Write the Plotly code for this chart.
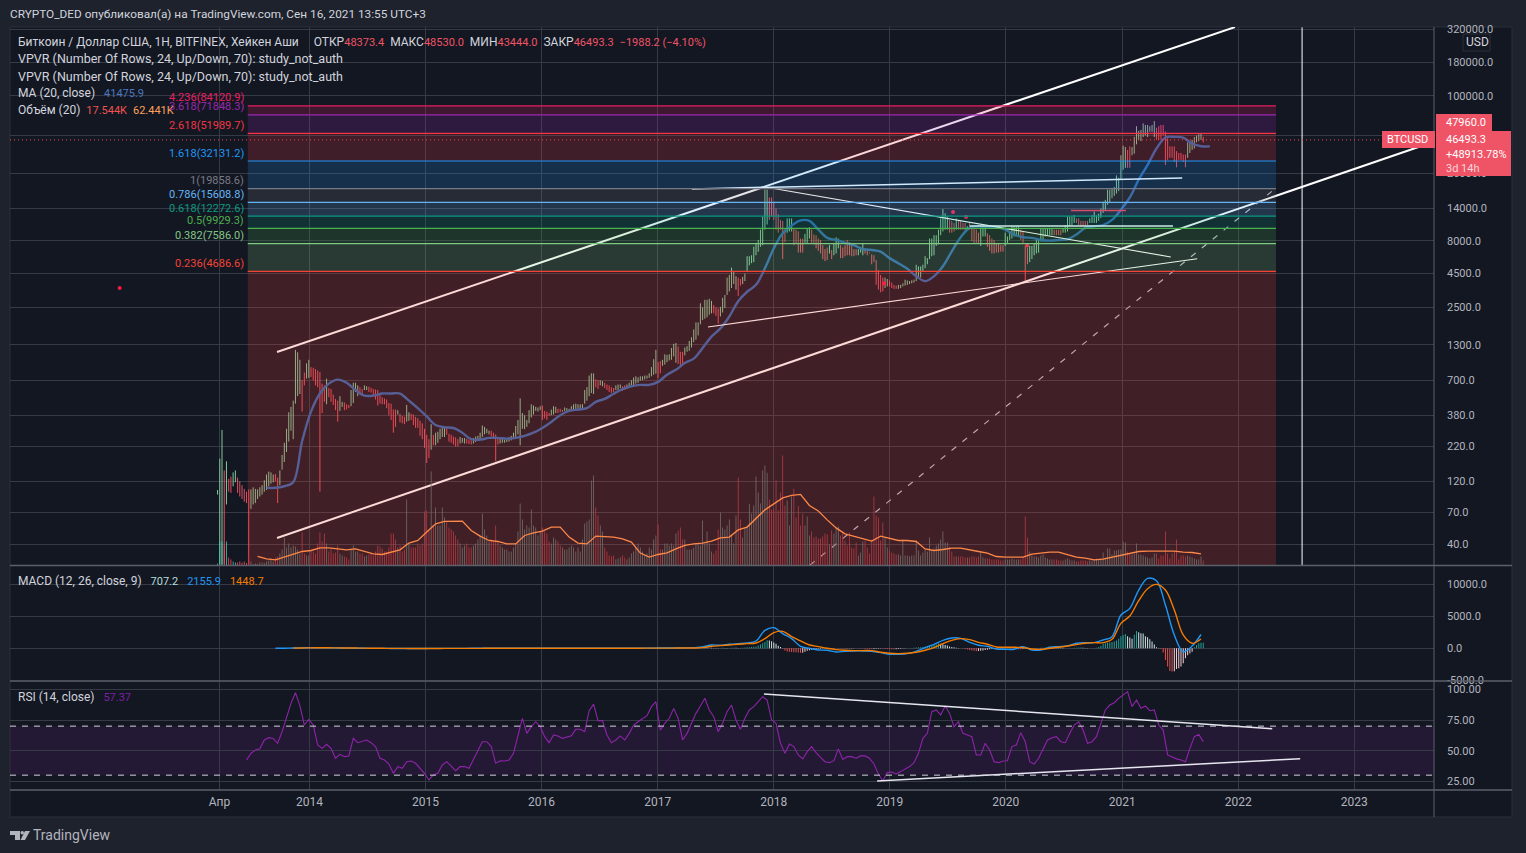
import math
import pandas as pd
import plotly.graph_objects as go

# ---------- weekly bars: (low, high, volume in K, up=1/down=0) ----------
bars_2013 = [(95,103,10,1),(28,178,120,1),(28,294,120,1),(28,145,100,0),(80,170,120,1),(100,125,40,0),(98,130,30,0),(110,140,20,1),(118,145,15,1),(98,128,15,0),(92,120,20,0),(88,112,15,0),(84,105,20,0),(82,100,12,0),
(28,104,50,0),(74,104,20,1),(80,108,8,1),(82,105,10,1),(88,104,8,1),(92,108,15,1),(95,112,15,1),(100,122,12,1),(103,135,20,1),(110,142,25,1),(115,140,35,1),(118,135,20,1),(120,136,40,0),(82,128,45,0),
(112,145,60,1),(147,190,80,1),(168,235,140,1),(200,300,90,1),(240,400,110,1),(290,440,90,1),(250,490,100,1),(465,1190,95,1),(530,1140,80,1),(550,1000,60,1),(405,700,165,0),(640,800,60,0),(720,940,50,1),(730,1000,50,1)]
bars_2014 = [(740,880,75,0),(700,870,70,0),(640,850,60,0),(620,830,110,0),(100,810,165,0),(395,660,120,0),(480,640,160,0),(460,720,110,1),(520,610,70,0),(480,600,80,0),(455,545,60,0),(415,505,65,0),(340,490,100,0),
(410,530,60,1),(440,480,50,1),(415,475,45,0),(420,460,40,0),(430,455,30,0),(445,590,85,1),(470,670,100,1),(570,670,70,1),(530,640,70,1),(550,620,60,0),(540,600,60,0),(590,640,45,1),(590,630,50,1),
(570,625,55,0),(565,615,60,0),(530,600,50,0),(500,595,70,0),(450,590,100,0),(465,555,95,0),(460,520,85,0),(460,510,70,0),(430,500,70,0),(380,470,90,0),(350,465,160,0),(280,420,160,0),(310,420,130,0),
(385,415,90,1),(335,390,100,0),(330,375,70,0),(325,370,80,0),(340,455,330,1),(345,400,110,1),(350,390,90,0),(320,385,90,0),(305,370,90,0),(305,360,110,0),(265,345,100,0),(250,330,110,0),(215,300,270,0)]
bars_2015 = [(165,270,275,0),(180,250,180,0),(208,325,470,1),(225,270,200,0),(225,280,290,1),(235,285,200,1),(250,300,200,1),(260,310,290,1),(260,315,240,1),(270,305,220,0),(240,275,190,0),(235,270,180,0),(228,262,170,0),
(220,258,150,0),(220,250,130,0),(232,260,110,1),(235,255,90,1),(232,255,100,1),(232,252,110,0),(230,248,90,0),(228,245,90,0),(232,255,100,1),(238,262,110,1),(245,265,130,1),(250,280,150,1),(260,318,260,1),
(272,310,180,1),(278,300,150,1),(272,290,120,1),(262,290,130,0),(258,280,120,0),(170,272,200,0),(228,258,120,0),(232,258,100,1),(235,252,90,1),(235,248,80,1),(238,255,80,1),(240,260,70,1),(245,265,70,1),
(250,280,90,1),(258,315,110,1),(272,350,170,1),(225,510,310,1),(300,395,230,1),(298,380,180,1),(310,350,200,1),(330,415,190,1),(365,460,280,1),(385,450,200,1),(410,440,190,1),(405,435,150,1),(415,445,170,1)]
bars_2016 = [(350,450,190,0),(360,410,170,0),(350,405,160,0),(375,395,120,0),(380,420,110,1),(385,445,140,1),(395,440,130,1),(395,425,120,0),(400,425,100,0),(405,415,90,1),(410,435,80,1),(410,430,80,1),(410,425,90,1),
(415,445,100,1),(420,460,90,1),(425,465,70,1),(425,460,90,1),(425,460,70,1),(425,460,130,1),(465,590,210,1),(490,620,220,1),(530,760,230,1),(560,790,425,1),(550,790,450,1),(620,710,290,0),(600,700,250,0),
(640,700,200,1),(630,690,170,1),(610,670,90,0),(590,650,70,0),(570,640,50,0),(560,620,45,0),(570,610,50,0),(590,640,30,1),(590,650,35,1),(610,650,40,1),(580,630,50,0),(590,640,40,0),(600,650,30,1),
(610,670,40,1),(640,700,60,1),(640,735,70,1),(660,750,90,1),(670,735,110,1),(695,750,90,1),(700,750,70,1),(710,760,50,1),(720,760,60,1),(730,790,90,1),(750,880,80,1),(770,1010,130,1),(785,1190,150,1)]
bars_2017 = [(725,960,205,0),(790,980,80,0),(900,1000,80,1),(920,1100,110,1),(960,1090,110,1),(990,1100,100,1),(1000,1230,110,1),(1060,1320,100,1),(950,1340,160,1),(930,1260,175,0),(910,1150,190,0),(930,1150,130,0),(1080,1240,130,1),
(1150,1270,80,1),(1170,1390,80,1),(1240,1480,80,1),(1360,1700,90,1),(1420,1920,110,1),(1530,1920,105,1),(1860,2680,100,1),(2000,2500,225,1),(2050,2850,110,1),(2100,2850,170,1),(2200,2900,110,1),(2250,2800,70,1),(2250,2600,60,0),
(2150,2500,75,0),(1880,2450,180,0),(2130,2520,265,1),(2280,2950,190,1),(2470,3100,180,1),(3100,4200,200,1),(3300,4400,230,1),(3500,5000,150,1),(3750,4650,110,1),(3400,4300,250,1),(3050,4200,440,0),(3650,4100,230,0),(3750,4250,140,1),
(3950,4500,190,1),(4700,6100,200,1),(5200,6100,308,1),(5400,6200,260,1),(5500,7200,300,1),(6200,7700,445,1),(6600,8100,365,1),(7200,9700,310,1),(7400,12200,475,1),(9700,19500,500,1),(10600,19500,463,1),(11500,17000,330,0),(12300,17000,280,0)]
bars_2018 = [(11500,15800,280,0),(9700,14000,425,0),(9200,12700,275,0),(9700,11500,365,0),(5800,11300,550,0),(7800,9700,300,0),(9200,11800,325,1),(9400,11800,200,1),(9400,11800,345,1),(7400,10000,383,0),(7600,9700,240,0),(6500,9400,297,0),(6500,8300,200,0),
(6500,8300,260,0),(7700,9000,200,1),(7700,9900,245,1),(8300,10100,150,1),(7700,9700,170,0),(7500,8900,140,0),(7000,8800,145,0),(6700,8300,135,0),(6400,8100,135,0),(5800,7400,145,0),(5600,6900,160,0),(5700,7100,155,0),(6400,7400,105,1),
(5800,6800,175,0),(6200,7700,160,1),(6400,8500,190,1),(7000,8300,195,1),(5900,7400,150,0),(5900,7100,170,0),(6100,7400,125,0),(6200,8100,100,0),(6200,7800,165,0),(6100,7400,90,0),(6100,6900,85,0),(6200,6900,115,0),(6200,6900,50,1),
(6500,6900,65,1),(6200,7700,120,1),(6400,6900,125,0),(6200,6700,90,0),(6400,6500,60,0),(5300,6300,130,0),(5500,6200,345,0),(3700,5700,250,0),(3400,4800,240,0),(3250,4400,125,0),(3300,4200,215,0),(3500,4200,140,1),(3600,4100,90,1)]
bars_2019 = [(3600,4000,75,0),(3500,3850,65,0),(3450,3700,60,0),(3450,3650,55,0),(3450,3700,55,1),(3500,3700,50,1),(3600,3800,130,1),(3650,4050,50,1),(3700,4000,50,1),(3750,3950,45,1),(3800,4000,50,1),(3850,4050,50,1),(3950,5250,125,1),
(4100,5100,75,1),(4200,5100,50,1),(4650,5250,65,1),(4950,6100,80,1),(5300,5900,70,1),(5800,8300,140,1),(6100,8300,75,1),(6200,8800,85,1),(7300,8800,100,1),(7500,9700,110,1),(8800,11800,130,1),(9400,13900,170,1),(9700,12900,115,1),
(9700,12200,115,1),(9200,11500,95,0),(9200,11300,70,0),(9400,10900,45,0),(9700,11800,45,1),(9700,11500,45,0),(9700,11300,45,0),(9700,10900,45,0),(9400,10900,40,0),(9700,10300,40,1),(9700,10900,40,0),(7900,10300,45,0),(7700,9900,45,0),
(7700,9700,40,0),(7700,9200,45,0),(7300,10300,65,1),(8600,10300,40,1),(8600,9900,35,1),(7200,9100,35,0),(6700,8800,35,0),(6400,8300,30,0),(6400,8100,30,0),(6500,7700,30,0),(6500,7700,30,0),(6600,7400,25,0),(6600,7400,25,0)]
bars_2020 = [(7300,9200,30,1),(7700,8600,30,1),(8100,9400,30,1),(8300,10300,35,1),(8600,10300,30,1),(8800,10300,30,1),(8800,10300,30,1),(8100,9700,30,0),(7700,9400,40,0),(3900,7300,245,0),(5300,7100,140,0),(5500,7300,70,1),(5800,7300,50,1),
(6200,7600,45,1),(6400,8100,45,1),(6500,8100,40,1),(7900,9900,50,1),(7900,9900,55,1),(8600,9900,40,1),(8800,9900,35,1),(8800,9900,30,1),(8800,9900,30,1),(8800,9700,30,0),(8800,9700,30,0),(8800,9700,25,0),(8800,9700,25,0),
(9200,9900,25,1),(9200,10500,30,1),(9400,12200,35,1),(10300,12200,30,1),(10500,12200,25,1),(10900,12500,25,1),(10900,11800,20,0),(10500,11800,20,0),(10300,11300,25,0),(10300,11300,25,0),(10300,11300,25,0),(10500,11300,20,0),(10900,11800,25,1),
(10900,12500,25,1),(10900,13300,30,1),(10900,12400,35,1),(11300,12800,30,1),(11900,14000,35,1),(13000,15800,65,1),(13700,16300,40,1),(15000,19500,85,1),(15700,19500,85,1),(16800,20000,55,1),(17500,20400,75,1),(18200,25000,75,1),(19000,24000,80,1)]
bars_2021 = [(23200,35500,80,1),(27600,42000,120,1),(28500,41000,115,1),(28500,39000,70,0),(28500,41500,60,0),(35500,41000,55,1),(36500,49000,60,1),(43000,59000,110,1),(46500,54500,55,1),(45500,55300,55,1),(48800,62000,50,1),(50200,60300,45,1),(48800,60300,40,1),
(53500,59000,35,1),(53500,60300,40,1),(48800,64500,60,1),(46500,57500,60,0),(46500,59000,35,0),(46500,60300,50,0),(50200,60300,50,0),(30000,53900,170,0),(32800,47800,60,0),(34000,41500,35,0),(34000,41500,60,0),(31600,41500,70,0),(28800,38200,130,0),
(32800,37000,30,0),(32800,37000,50,0),(31600,36000,50,0),(28800,36000,45,0),(34000,44500,50,1),(37000,44500,45,1),(39000,46500,40,1),(40000,48800,35,1),(44500,50200,30,1),(45500,51300,30,1),(46500,51900,45,1),(44500,49000,25,0)]
year_blocks = [(0,bars_2013),(42,bars_2014),(94,bars_2015),(146,bars_2016),(198,bars_2017),(250,bars_2018),(302,bars_2019),(354,bars_2020),(406,bars_2021)]

# ---------- overlay series, read every 4 weeks ----------
ma20_a = [107,107,110,118,241,405,555,660,708,670,590,535,535,555,555,555,490,430,372,320,308,304,280,250,248,256,256,252,256,265,280,304,338,380,410,420,430,480]  # from week 22
ma20_b = [505,553,600,630,645,645,680,770,840,945,1020,1230,1500,1730]  # from week 174
ma20_c = [2130,2780,3280,3700,4950,7000,9100,10400,11400,11300,9700,8400,8100,7700,7400,6900,6800,6600,5900,5400,4900,4300,3950,4300,5120,6650,8500,10000,10300,10100,10200,9700,8900,8500,8400,8100,8000,8100,8200,8900,10000,10300]  # from week 230
ma20_d = [10500,11500,13700,17000,23200,30000,40000,48500,49000,48400,43600,41600,41500]  # from week 398
vol_ma_a = [45,33,28,42,53,70,75,88,88,83,78,83,72,58,55,67,78,112,125,167,208,220,220,222,175,147,125,120,108,108,150,163,172,192,192,142,112,108,147]  # from week 18
vol_ma_b = [145,142,133,117,62,42,55,63,83,100,108,112,122,138,142,178,192,233,278,308,338,350,355,300,272,228,188,158,147,133,122,147,137,125,125,120,83,75,80,87,87,80,70,62,45,42,42,42,57,62,67,67,55,42,37,28,32,42,50,62,70,72,72,72,72,67,65,58]  # from week 174

macd_early = [0,15,40,70,90,85,70,50,30,10,0,-10,-15,-20,-25,-25,-25,-20,-15,-10,-8,-5,-3,0,3,6,8,10,15,20,15,12,10,10,8,8,10,12,15,18,20,25,30,35,40,45,60]  # from week 26
signal_early = [20,50,70,80,80,65,50,35,20,8,-2,-10,-15,-20,-22,-24,-22,-18,-14,-10,-7,-5,-2,1,3,6,8,12,15,15,13,11,10,9,8,9,11,13,15,18,22,26,30,35,40]  # from week 34
macd_late = [100,208,520,468,624,728,832,1144,2808,3224,2288,1508,312,0,-260,-312,-572,-468,-416,-416,-468,-676,-936,-936,-832,-468,104,624,1248,1612,1560,936,468,312,-104,-156,-156,260,-260,-260,156,260,364,780,884,884,1300,1820,5200,6240,9100,10920,10556,6760,2080,-520,364,2156]  # from week 214
signal_late = [52,104,312,416,520,624,728,832,1508,2444,2652,1820,1144,520,260,0,-208,-312,-364,-364,-364,-624,-780,-832,-780,-624,-312,104,728,1248,1508,1352,936,624,208,156,156,104,-104,-156,0,156,364,572,780,884,884,1404,3900,5044,7436,9308,9984,9100,5980,2080,780,1449]  # from week 214
hist_a = [30,40,50,60,80,100,90,120,80,60,50,40,60,70,50,40,60,80,100,70,50,60,90,120,150,170,200,230,300,420,600,800,1000,1250,1200,1100,900,700,400,200,-100,-350]  # from week 214
hist_b = [-500,-550,-560,-600,-620,-650,-700,-680,-550,-400,-300,-220,-150,-100,-80,-60,-50,-40,-30,-40,-30,-20,-10,-20,-30,-40,-60,-50,-40,-30,-20,-10,-20,-30,-40,-60,-80,-100,-120,-100,-80,-60,-50,-80,-100]  # from week 256
hist_c = [-120,-140,-150,-160,-130,-100,-80,-50,-30,-10,20,50,100,120,150,180,220,260,300,340,420,500,600,750,700,620,500,420,300,220,150,100,60,20,-50,-120,-200,-280,-340,-400,-450,-420,-380,-330,-280,-220,-160,-120,-90,-70,-50,-30,-20]  # from week 301
hist_d = [30,60,40,-20,-80,-120,-150,-170,-120,-80,-50,-20,10,30,40,60,80,100,110,120,120,100,80,60,50,40,30,20,0,20,40,80]  # from week 354
hist_e = [100,120,140,100,60,30,-10,20,60,100,200,350,700,800,850,950,1000,1050,1200,1500,1900,2080,2236,1900,1700,1500,2100,2700,2500,2340,2300,1900,1716,1400,1050,600,150,30,-100,-676,-1820,-2860,-3536,-3640,-3600,-3224,-3120,-2860,-2340,-1560,-1100,-800,-520,150,520,780,880,880]  # from week 386

rsi_a = [42.4,47.8,50.5,51.6,58.7,60.6,60,56,65.5,77.7,88.6,97.3,86.7,70.9,75.5,70.9,54.6,51.9,55.2,51.9,43.8,47,45.1,45.7,60,56.5,57.3,58.7,56.5,53.3,43.8,42.4,39.1,31.5,37,35.6,41,41.6,39.7,35.6,31.5,26.1,30.2,31.5,38.3,41,37,33.7,37,37,35.6,42.9,49.2,57.3,57.3,53.3,39.7]  # from week 13, every 2 weeks
rsi_b = [41.8,41.6,42.4,47.8,62.8,76.4,64.1,69.6,73.6,69.6,61.4,56.5,62.8,62,60,61.4,62.2,67.4,67.4,65.5,82.6,88,74.5,74.5,62.8,56.5,58.7,62,58.7,64.1,70.9,73.6,76.4,78.5,85.9,89.9,66.8,72.3,76.4,84.5,76.4,58.7,64.1,72.3,80.4,86.4,92.7,83.2,77.7,65.5,72.3,81.8,87.2,75,67.4,76.4,83.2,85.9,89.9,94,91.3,75,72.3,56,47.8,55.4,53.3,46.5,43.2,49.2,53.3,48.4,44.6,41,40.2,41.8,51.4,42.9,45.1,45.1,43.8,45.7,45.7,43.8,39.1,31,25.5,32.1,32.6,31,32.9,34.8,37,40.2,47.8,60,64.1,81.8,83.2,79.1,86.4,80.4,69.6,73.6,64.1,62.8,61.4,46.5,46.5,56,50.5,41,40.2]  # from week 127
rsi_c = [41.6,41.8,53.3,54.6,64.7,57.3,41,39.1,43.8,51.9,58.7,60.6,61.4,57.3,56.5,64.1,70.9,73.6,66.8,56,57.3,61.4,72.8,83.2,87.2,89.1,92.7,95.4,98.1,85.9,91.3,84.5,86.4,82.6,83.2,70.9,66.8,46.5,44.6,43.3,42.4,41,51.9,61.4,63.3,57.37]  # from week 353

# ---------- levels and drawings (date, value) ----------
fib_ratio = ["0.236","0.382","0.5","0.618","0.786","1","1.618","2.618","3.618","4.236"]
fib_level = [4686.6,7586.0,9929.3,12272.6,15608.8,19858.6,32131.2,51989.7,71848.3,84120.9]
fib_color = ["#f44336","#81c784","#4caf50","#089981","#64b5f6","#787b86","#2196f3","#f23645","#9c27b0","#e91e63"]
fib_start, fib_end = "2013-06-21", "2022-04-30"
trend_upper = (["2013-09-21","2021-12-22"],[1146,333000])
trend_lower = (["2013-09-21","2023-08-28"],[44.6,44000])
trend_top_flat = (["2017-04-18","2021-07-09"],[19720,23900])
trend_desc = (["2017-12-04","2021-06-03"],[20420,6020])
trend_asc = (["2017-06-08","2021-08-25"],[1774,5840])
trend_hline = (["2019-09-09","2021-06-10"],[10330,10330])
trend_red = (["2020-07-24","2021-01-13"],[13520,13520])
trend_dash = (["2018-04-25","2022-04-30"],[27.8,20070])
dot_dates = ["2012-05-14","2019-07-19","2019-08-29","2018-12-14","2020-03-08"]
dot_values = [3501,13200,12100,3780,7360]
vline_date = "2022-07-21"
last_price = 46493.3
rsi_upper = (["2017-12-01","2022-04-18"],[96.2,67.9])
rsi_lower = (["2018-11-22","2022-07-15"],[25.3,43.4])

price_ticks = [320000,180000,100000,50000,26000,14000,8000,4500,2500,1300,700,380,220,120,70,40]
macd_ticks = [10000,5000,0,-5000]
rsi_ticks = [100,75,50,25]
x_ticks = ["2013-03-24","2014-01-01","2015-01-01","2016-01-01","2017-01-01","2018-01-01","2019-01-01","2020-01-01","2021-01-01","2022-01-01","2023-01-01"]
x_labels = ["Апр","2014","2015","2016","2017","2018","2019","2020","2021","2022","2023"]

# ---------- style ----------
W, H = 1526, 853
FONT = "Roboto"
BG, OUTER = "#131722", "#1e222d"
GRID, SEP = "#363a45", "#5d606b"
UP, DOWN = "#8fdca8", "#ff5565"
TXT, AX = "#d1d4dc", "#b2b5be"
RED = "#ef5366"
def px(x): return x / W
def py(y): return 1 - y / H

week_dates = pd.date_range("2013-03-18", periods=470, freq="7D")
idx, low, high, vol, up = [], [], [], [], []
for start, block in year_blocks:
    for k, (l, h, v, u) in enumerate(block):
        idx.append(start + k); low.append(l); high.append(h); vol.append(v); up.append(u)
dates = [week_dates[i] for i in idx]

def sampled(parts, step):
    xs, ys = [], []
    for start, vals in parts:
        for k, v in enumerate(vals):
            xs.append(week_dates[start + k * step]); ys.append(v)
    return xs, ys

fig = go.Figure()

def seg(flag):
    xs, ys = [], []
    for d, l, h, u in zip(dates, low, high, up):
        if u == flag:
            xs += [d, d, None]; ys += [l, h, None]
    return xs, ys
for flag, col, name in [(1, UP, "Рост"), (0, DOWN, "Падение")]:
    xs, ys = seg(flag)
    fig.add_trace(go.Scatter(x=xs, y=ys, mode="lines", line=dict(color=col, width=0.9), name=name, showlegend=False, yaxis="y", hoverinfo="skip"))

mx, my = sampled([(22, ma20_a), (174, ma20_b), (230, ma20_c), (398, ma20_d)], 4)
fig.add_trace(go.Scatter(x=mx, y=my, mode="lines", line=dict(color="#2f67ae", width=2.4, shape="spline"), name="MA", showlegend=False, yaxis="y", hoverinfo="skip"))

def white(tr, w=2, col="#ffffff", dash=None, ax="y"):
    fig.add_trace(go.Scatter(x=tr[0], y=tr[1], mode="lines", line=dict(color=col, width=w, dash=dash), showlegend=False, yaxis=ax, hoverinfo="skip"))
white(trend_upper, 2); white(trend_lower, 2); white(trend_top_flat, 1.5); white(trend_desc, 1.1)
white(trend_asc, 1.1); white(trend_hline, 1.5); white(trend_red, 1.5, "#f23645"); white(trend_dash, 1.2, "#b8bcc8", "6px,8px")
fig.add_trace(go.Scatter(x=dot_dates, y=dot_values, mode="markers", marker=dict(color="#ff1744", size=4), showlegend=False, yaxis="y", hoverinfo="skip"))
white(([vline_date, vline_date], [10**1.44, 10**5.52]), 1)
white((["2011-06-04", "2023-05-20"], [last_price, last_price]), 1, "#ef5350", "1px,3px")

vol_cols = []
for i, u in zip(idx, up):
    if i < 14:
        vol_cols.append("#45c7b0" if u else "#ff4d5e")
    else:
        vol_cols.append("#557a76" if u else "#a83a48")
fig.add_trace(go.Bar(x=dates, y=vol, width=2.5*86400000, marker=dict(color=vol_cols, line=dict(width=0)), showlegend=False, yaxis="y4", hoverinfo="skip"))
vx, vy = sampled([(18, vol_ma_a), (174, vol_ma_b)], 4)
fig.add_trace(go.Scatter(x=vx, y=vy, mode="lines", line=dict(color="#ff9a4d", width=1.3), showlegend=False, yaxis="y4", hoverinfo="skip"))

hist_parts = [(214, hist_a), (256, hist_b), (301, hist_c), (354, hist_d), (386, hist_e)]
hx, hy = sampled(hist_parts, 1)
hcols = []
for k, v in enumerate(hy):
    prev = hy[k-1] if k else 0
    if v >= 0:
        hcols.append("#26a69a" if v >= prev else "#d9efec")
    else:
        hcols.append("#ef5350" if v <= prev else "#ffd9dc")
fig.add_trace(go.Bar(x=hx, y=hy, width=3*86400000, marker=dict(color=hcols, line=dict(width=0)), showlegend=False, yaxis="y2", hoverinfo="skip"))
bx, by = sampled([(26, macd_early)], 4); b2x, b2y = sampled([(214, macd_late)], 4)
sx, sy = sampled([(34, signal_early)], 4); s2x, s2y = sampled([(214, signal_late)], 4)
fig.add_trace(go.Scatter(x=bx+b2x, y=by+b2y, mode="lines", line=dict(color="#2196f3", width=1.4, shape="spline"), showlegend=False, yaxis="y2", hoverinfo="skip"))
fig.add_trace(go.Scatter(x=sx+s2x, y=sy+s2y, mode="lines", line=dict(color="#f57c00", width=1.4, shape="spline"), showlegend=False, yaxis="y2", hoverinfo="skip"))

rx, ry = sampled([(13, rsi_a), (127, rsi_b), (353, rsi_c)], 2)
fig.add_trace(go.Scatter(x=rx, y=ry, mode="lines", line=dict(color="#8e24aa", width=1.1), showlegend=False, yaxis="y3", hoverinfo="skip"))
white(rsi_upper, 1.5, "#e6e6ee", ax="y3"); white(rsi_lower, 1.5, "#e6e6ee", ax="y3")

shapes = []
# frame
shapes.append(dict(type="rect", xref="paper", yref="paper", x0=px(10), x1=px(1512), y0=py(817), y1=py(27), fillcolor=BG, line=dict(color="#2a2e39", width=1), layer="below"))
# RSI band
shapes.append(dict(type="rect", xref="paper", yref="y3", x0=px(10), x1=px(1434), y0=30, y1=70, fillcolor="rgba(156,39,176,0.13)", line=dict(width=0), layer="below"))
for lv in (70, 30):
    shapes.append(dict(type="line", xref="paper", yref="y3", x0=px(10), x1=px(1434), y0=lv, y1=lv, line=dict(color="#d1d4dc", width=1, dash="6px,6px"), layer="above"))
# fib bands (over the candles, so the marks show through), then the level lines
edges = [10**1.4405] + fib_level
for i, (lv, c_) in enumerate(zip(fib_level, fib_color)):
    r, g, b = int(c_[1:3], 16), int(c_[3:5], 16), int(c_[5:7], 16)
    shapes.append(dict(type="rect", xref="x", yref="y", x0=fib_start, x1=fib_end, y0=edges[i], y1=lv,
                       fillcolor=f"rgba({r},{g},{b},0.2)", line=dict(width=0), layer="above"))
for lv, c_ in zip(fib_level, fib_color):
    shapes.append(dict(type="line", xref="x", yref="y", x0=fib_start, x1=fib_end, y0=lv, y1=lv, line=dict(color=c_, width=1.2), layer="above"))
# separators
for y in (565.5, 681, 790):
    shapes.append(dict(type="line", xref="paper", yref="paper", x0=px(10), x1=px(1512), y0=py(y), y1=py(y), line=dict(color=SEP, width=1.5), layer="above"))
shapes.append(dict(type="line", xref="paper", yref="paper", x0=px(1434), x1=px(1434), y0=py(27), y1=py(817), line=dict(color=SEP, width=1), layer="above"))
# price labels
def box(x0, y0, x1, y1, col=RED, line=None):
    shapes.append(dict(type="rect", xref="paper", yref="paper", x0=px(x0), x1=px(x1), y0=py(y1), y1=py(y0), fillcolor=col, line=dict(width=0 if line is None else 1, color=line or col), layer="above"))
box(1436, 114, 1492, 131); box(1436, 131, 1511, 176); box(1382, 131, 1435, 148)
box(1463, 34, 1490, 51, BG, "#2a2e39")
# TradingView logo
def poly(pts):
    return "M" + " L".join(f"{px(a)},{py(b)}" for a, b in pts) + " Z"
for pts in ([(10,831),(20,831),(20,840),(15,840),(15,835),(10,835)], [(25,831),(30,831),(25,840),(20.5,840)]):
    shapes.append(dict(type="path", xref="paper", yref="paper", path=poly(pts), fillcolor=AX, line=dict(width=0), layer="above"))
shapes.append(dict(type="circle", xref="paper", yref="paper", x0=px(20.5), x1=px(24), y0=py(834.5), y1=py(831), fillcolor=AX, line=dict(width=0), layer="above"))

ann = []
def label(x, y, text, size=12, col=TXT, anchor="left"):
    ann.append(dict(xref="paper", yref="paper", x=px(x - 2), y=py(y), text=text, showarrow=False, xanchor=anchor, yanchor="middle",
                    font=dict(family=FONT, size=size, color=col), align="left"))
def c(col, t): return f'<span style="color:{col};font-size:11px">{t}</span>'
S2 = "\u00a0\u00a0"
S3 = "\u00a0\u00a0\u00a0"
label(10, 14.5, "CRYPTO_DED опубликовал(а) на TradingView.com, Сен 16, 2021 13:55 UTC+3", 11.8)
R = "#ef5366"
label(18, 42, "Биткоин / Доллар США, 1Н, BITFINEX, Хейкен Аши" + S3 + S2 + "ОТКР" + c(R,"48373.4") + S2 + "МАКС" + c(R,"48530.0") + S2 + "МИН" + c(R,"43444.0") + S2 + "ЗАКР" + c(R,"46493.3") + S2 + c(R,"−1988.2 (−4.10%)"))
label(18, 59, "VPVR (Number Of Rows, 24, Up/Down, 70): study_not_auth", 12.5)
label(18, 76, "VPVR (Number Of Rows, 24, Up/Down, 70): study_not_auth", 12.5)
label(18, 93, "MA (20, close)" + S3 + c("#4a78c0","41475.9"))
label(18, 110, "Объём (20)" + S2 + c("#ef5350","17.544K") + S2 + c("#ffa15a","62.441K"))
label(18, 581, "MACD (12, 26, close, 9)" + S3 + c("#b2dfdb","707.2") + S3 + c("#2196f3","2155.9") + S3 + c("#f57c00","1448.7"))
label(18, 697, "RSI (14, close)" + S3 + c("#7b1fa2","57.37"))
label(33, 835, "TradingView", 14, AX)
label(1466, 42.5, "USD", 12, TXT)
label(1446, 123, "47960.0", 11, "#ffffff")
label(1446, 140, "46493.3", 11, "#ffffff")
label(1446, 154, "+48913.78%", 11, "#ffffff")
label(1446, 168, "3d 14h", 11, "#f6d5da")
label(1387, 140, "BTCUSD", 11, "#ffffff")
for r_, lv, col in zip(fib_ratio, fib_level, fib_color):
    txt = f"{r_}({lv})"
    ann.append(dict(xref="x", yref="y", x=fib_start, y=math.log10(lv), yshift=8, xshift=-2, text=txt, showarrow=False, xanchor="right", yanchor="middle",
                    font=dict(family=FONT, size=11, color=col)))

def yax(domain, rng, ticks, text, kind="linear"):
    return dict(domain=domain, range=rng, type=kind, side="right", anchor="x", tickmode="array", tickvals=ticks, ticktext=text,
                showgrid=True, gridcolor=GRID, gridwidth=1, zeroline=False, showline=False, ticks="", ticklabelstandoff=12,
                tickfont=dict(family=FONT, size=11, color=AX), fixedrange=True)

fig.update_layout(
    width=W, height=H, autosize=False, margin=dict(l=0, r=0, t=0, b=0, pad=0, autoexpand=False), paper_bgcolor=OUTER, plot_bgcolor="rgba(0,0,0,0)",
    showlegend=False, shapes=shapes, annotations=ann, barmode="overlay", font=dict(family=FONT, color=TXT),
    xaxis=dict(domain=[px(10), px(1434)], range=["2011-06-04", "2023-09-09"], type="date", anchor="y3", tickmode="array", tickvals=x_ticks, ticktext=x_labels,
               showgrid=True, gridcolor=GRID, gridwidth=1, zeroline=False, showline=False, ticks="", tickangle=0, ticklabelstandoff=3,
               tickfont=dict(family=FONT, size=12, color=AX), fixedrange=True),
    yaxis=yax([py(565.5), py(27)], [1.4405, 5.523], price_ticks, [f"{t}.0" for t in price_ticks], "log"),
    yaxis2=yax([py(681), py(566)], [-5110, 12860], macd_ticks, [f"{t}.0" for t in macd_ticks]),
    yaxis3=yax([py(790), py(682)], [17.9, 106], rsi_ticks, [f"{t}.00" for t in rsi_ticks]),
    yaxis4=dict(overlaying="y", side="right", anchor="x", range=[0, 2690], showgrid=False, showticklabels=False, zeroline=False, showline=False, ticks="", fixedrange=True),
)
fig.write_html("out.html", config=dict(displayModeBar=False, staticPlot=True),
               post_script="document.body.style.margin='0';document.documentElement.style.overflow='hidden';")
